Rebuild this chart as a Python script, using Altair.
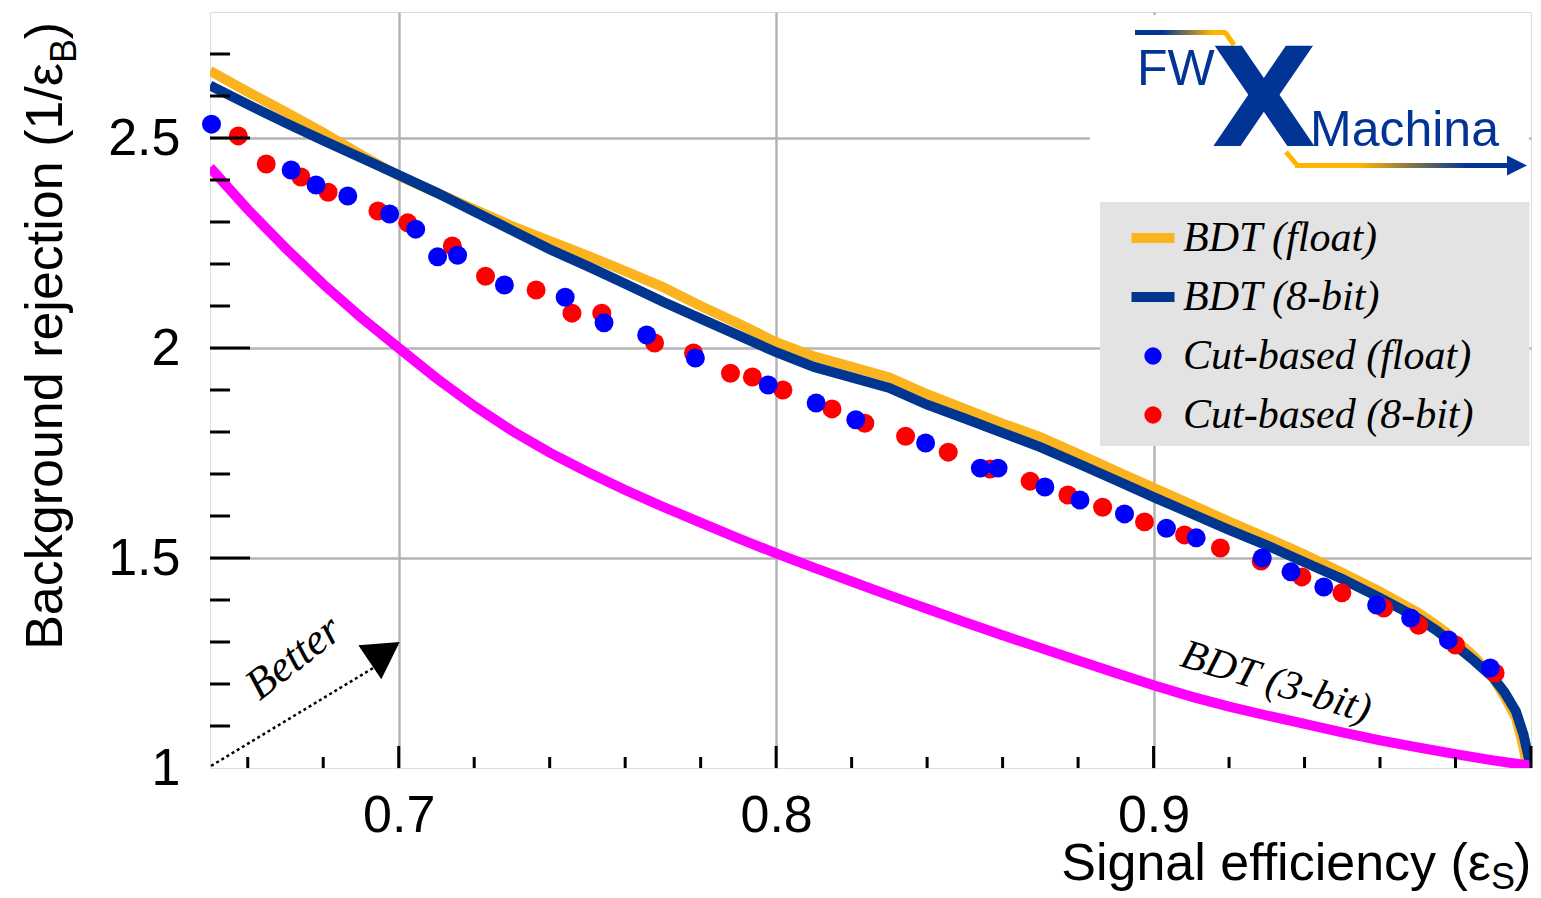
import altair as alt
import pandas as pd

# ---------------- data ----------------
eff = [0.65, 0.66, 0.67, 0.68, 0.69, 0.70, 0.71, 0.72, 0.73, 0.74, 0.75, 0.76, 0.77, 0.78,
       0.79, 0.80, 0.81, 0.82, 0.83, 0.84, 0.85, 0.86, 0.87, 0.88, 0.89, 0.90, 0.91, 0.92,
       0.93, 0.94, 0.95, 0.96, 0.97, 0.975, 0.98, 0.985, 0.99, 0.993, 0.996, 0.998, 0.999, 1.0]
bdt_float = [2.66, 2.61, 2.562, 2.513, 2.46, 2.41, 2.37, 2.33, 2.29, 2.255, 2.22, 2.183, 2.145, 2.10,
             2.058, 2.014, 1.98, 1.955, 1.93, 1.89, 1.855, 1.82, 1.788, 1.748, 1.707, 1.667, 1.627, 1.587,
             1.548, 1.508, 1.465, 1.42, 1.37, 1.34, 1.305, 1.265, 1.215, 1.17, 1.12, 1.05, 1.0, 1.0]
bdt_8bit = [2.625, 2.58, 2.536, 2.494, 2.453, 2.412, 2.37, 2.325, 2.28, 2.235, 2.195, 2.153, 2.11, 2.07,
            2.03, 1.99, 1.955, 1.93, 1.905, 1.865, 1.832, 1.798, 1.764, 1.725, 1.685, 1.645, 1.606, 1.567,
            1.53, 1.49, 1.45, 1.405, 1.357, 1.327, 1.292, 1.255, 1.215, 1.18, 1.135, 1.08, 1.04, 1.0]
eff3 = [0.65, 0.66, 0.67, 0.68, 0.69, 0.70, 0.71, 0.72, 0.73, 0.74, 0.75, 0.76, 0.77, 0.78, 0.79, 0.80,
        0.81, 0.82, 0.83, 0.84, 0.85, 0.86, 0.87, 0.88, 0.89, 0.90, 0.91, 0.92, 0.93, 0.94, 0.95, 0.96,
        0.97, 0.98, 0.99, 1.0]
bdt_3bit = [2.43, 2.33, 2.238, 2.152, 2.073, 2.0, 1.928, 1.862, 1.803, 1.751, 1.705, 1.662, 1.622, 1.584,
            1.547, 1.511, 1.477, 1.444, 1.411, 1.379, 1.347, 1.316, 1.286, 1.256, 1.226, 1.197, 1.17,
            1.146, 1.125, 1.105, 1.085, 1.066, 1.049, 1.033, 1.018, 1.005]

cut_float_eff = [0.6504, 0.6715, 0.6781, 0.6865, 0.6976, 0.7045, 0.7103, 0.7156, 0.7280, 0.7441,
                 0.7544, 0.7657, 0.7786, 0.7979, 0.8106, 0.8211, 0.8396, 0.8541, 0.8588, 0.8712,
                 0.8805, 0.8923, 0.9034, 0.9113, 0.9288, 0.9364, 0.9451, 0.9591, 0.9681, 0.9781, 0.9892]
cut_float_rej = [2.533, 2.424, 2.388, 2.362, 2.319, 2.283, 2.217, 2.221, 2.150, 2.121,
                 2.060, 2.031, 1.976, 1.912, 1.869, 1.829, 1.774, 1.714, 1.714, 1.669,
                 1.638, 1.605, 1.571, 1.548, 1.500, 1.467, 1.431, 1.388, 1.357, 1.305, 1.238]
cut_8bit_eff = [0.6575, 0.6649, 0.6741, 0.6813, 0.6945, 0.7024, 0.7142, 0.7230, 0.7364, 0.7459,
                0.7538, 0.7678, 0.7781, 0.7879, 0.7937, 0.8018, 0.8148, 0.8235, 0.8343, 0.8456,
                0.8567, 0.8673, 0.8773, 0.8865, 0.8976, 0.9082, 0.9177, 0.9285, 0.9393, 0.9499,
                0.9610, 0.9702, 0.9800, 0.9905]
cut_8bit_rej = [2.505, 2.438, 2.407, 2.371, 2.326, 2.298, 2.243, 2.171, 2.138, 2.083,
                2.083, 2.012, 1.988, 1.940, 1.931, 1.900, 1.855, 1.821, 1.790, 1.752,
                1.712, 1.683, 1.650, 1.621, 1.586, 1.555, 1.524, 1.493, 1.455, 1.417,
                1.381, 1.340, 1.293, 1.226]

series_names = ["BDT (float)", "BDT (8-bit)", "Cut-based (float)", "Cut-based (8-bit)"]
series_colors = ["#fbb41f", "#00368f", "#0000ff", "#ff0000"]
color_3bit = "#ff00ff"

x_labels = [0.7, 0.8, 0.9]
y_labels = [1, 1.5, 2, 2.5]
x_major_ticks = [0.7, 0.8, 0.9, 1.0]
x_minor_ticks = [0.66, 0.68, 0.72, 0.74, 0.76, 0.78, 0.82, 0.84, 0.86, 0.88, 0.92, 0.94, 0.96, 0.98]
y_major_ticks = [1.5, 2.0, 2.5]
y_minor_ticks = [1.1, 1.2, 1.3, 1.4, 1.6, 1.7, 1.8, 1.9, 2.1, 2.2, 2.3, 2.4, 2.6, 2.7]

better_arrow_x = [0.6503, 0.6958]
better_arrow_y = [1.005, 1.252]
arrow_head_x = [0.6963]
arrow_head_y = [1.276]
annot_text = ["Better", "BDT (3-bit)"]
annot_x = [0.6722, 0.9325]
annot_y = [1.262, 1.205]

# ---------------- layout ----------------
W, H = 1321, 756
LX = -6  # logo horizontal shift
NAVY = "#023495"
ORANGE = "#ffb400"
SANS = "Liberation Sans"
SERIF = "Liberation Serif"

xs = alt.Scale(domain=[0.65, 1.0], nice=False, zero=False)
ys = alt.Scale(domain=[1.0, 2.8], nice=False, zero=False)
x_axis = alt.Axis(values=x_labels, format="~g", title=None, grid=True, gridColor="#b4b4b4",
                  gridWidth=2.5, ticks=False, tickSize=0, domain=False, labelFont=SANS,
                  labelFontSize=52, labelColor="black", labelPadding=22)
y_axis = alt.Axis(values=y_labels, format="~g", title=None, grid=True, gridColor="#b4b4b4",
                  gridWidth=2.5, ticks=False, tickSize=0, domain=False, labelFont=SANS,
                  labelFontSize=52, labelColor="black", labelPadding=30,
                  gridOpacity={"condition": {"test": "datum.value <= 1", "value": 0}, "value": 1})


def X(f):
    return alt.X(f, type="quantitative", scale=xs, axis=x_axis)


def Y(f):
    return alt.Y(f, type="quantitative", scale=ys, axis=y_axis)


def one():
    return pd.DataFrame({"k": [0]})


def txt(s, x, y, size, font=SANS, style="normal", weight="normal", align="left",
        baseline="alphabetic", angle=0, color="black"):
    return alt.Chart(pd.DataFrame({"label": [s]})).mark_text(
        align=align, baseline=baseline, font=font, fontSize=size, fontStyle=style,
        fontWeight=weight, angle=angle, color=color
    ).encode(x=alt.value(x), y=alt.value(y), text="label:N")


def rect(x1, x2, y1, y2, fill):
    return alt.Chart(one()).mark_rect(fill=fill).encode(
        x=alt.value(x1), x2=alt.value(x2), y=alt.value(y1), y2=alt.value(y2))


def rule(x1, x2, y1, y2, color, width):
    return alt.Chart(one()).mark_rule(color=color, strokeWidth=width).encode(
        x=alt.value(x1), x2=alt.value(x2), y=alt.value(y1), y2=alt.value(y2))


def grad(stops):
    return alt.LinearGradient(gradient="linear",
                              stops=[alt.GradientStop(offset=o, color=c) for o, c in stops],
                              x1=0, x2=1, y1=0, y2=0)


# curves
df_bdt = pd.DataFrame({"x": eff, "float": bdt_float, "b8": bdt_8bit})
df_3 = pd.DataFrame({"x": eff3, "y": bdt_3bit})
line_float = alt.Chart(df_bdt).mark_line(color=series_colors[0], strokeWidth=10, clip=True).encode(
    x=X("x"), y=Y("float"))
line_8bit = alt.Chart(df_bdt).mark_line(color=series_colors[1], strokeWidth=10, clip=True).encode(
    x=X("x"), y=Y("b8"))
line_3bit = alt.Chart(df_3).mark_line(color=color_3bit, strokeWidth=10, clip=True).encode(
    x=X("x"), y=Y("y"))

# cut-based points + legend
df_pts = pd.DataFrame({
    "x": cut_float_eff + cut_8bit_eff,
    "y": cut_float_rej + cut_8bit_rej,
    "series": [series_names[2]] * len(cut_float_eff) + [series_names[3]] * len(cut_8bit_eff),
})
bar_path = "M-2.48,-0.58H2.48V0.58H-2.48Z"
leg = alt.Legend(title=None, orient="none", legendX=922, legendY=205, padding=0,
                 labelFont=SERIF, labelFontStyle="italic", labelFontSize=42, labelColor="black",
                 labelLimit=600, labelOffset=9, symbolOffset=0, rowPadding=17, symbolSize=300,
                 symbolStrokeWidth=0, symbolOpacity=1)
points = alt.Chart(df_pts).mark_point(filled=True, size=360, opacity=1, strokeWidth=0).encode(
    x=X("x"), y=Y("y"),
    color=alt.Color("series:N", scale=alt.Scale(domain=series_names, range=series_colors), legend=leg),
    shape=alt.Shape("series:N", scale=alt.Scale(domain=series_names,
                                                range=[bar_path, bar_path, "circle", "circle"]), legend=leg),
    order=alt.Order("series:N", sort="ascending"),
)

# inward ticks
xt_major = alt.Chart(pd.DataFrame({"v": x_major_ticks})).mark_rule(color="black", strokeWidth=3).encode(
    x=X("v"), y=alt.value(H), y2=alt.value(H - 22))
xt_minor = alt.Chart(pd.DataFrame({"v": x_minor_ticks})).mark_rule(color="black", strokeWidth=3).encode(
    x=X("v"), y=alt.value(H), y2=alt.value(H - 11))
yt_major = alt.Chart(pd.DataFrame({"v": y_major_ticks})).mark_rule(color="black", strokeWidth=3).encode(
    y=Y("v"), x=alt.value(0), x2=alt.value(40))
yt_minor = alt.Chart(pd.DataFrame({"v": y_minor_ticks})).mark_rule(color="black", strokeWidth=3).encode(
    y=Y("v"), x=alt.value(0), x2=alt.value(20))

# "Better" arrow and annotations
arrow_line = alt.Chart(pd.DataFrame({"x": better_arrow_x, "y": better_arrow_y})).mark_line(
    color="black", strokeWidth=2.5, strokeDash=[3, 3]).encode(x=X("x"), y=Y("y"))
arrow_head = alt.Chart(pd.DataFrame({"x": arrow_head_x, "y": arrow_head_y})).mark_point(
    shape="M-1,-1.14L1,0L-1,1.14Z", filled=True, size=1296, angle=326, color="black",
    opacity=1, strokeWidth=0).encode(x=X("x"), y=Y("y"))
better_txt = alt.Chart(pd.DataFrame({"x": annot_x[:1], "y": annot_y[:1], "t": annot_text[:1]})).mark_text(
    font=SERIF, fontStyle="italic", fontSize=44, angle=322, color="black").encode(
    x=X("x"), y=Y("y"), text="t:N")
bit3_txt = alt.Chart(pd.DataFrame({"x": annot_x[1:], "y": annot_y[1:], "t": annot_text[1:]})).mark_text(
    font=SERIF, fontStyle="italic", fontSize=42, angle=17, color="black").encode(
    x=X("x"), y=Y("y"), text="t:N")

# logo area + legend background
logo_bg = rect(880, W - 2, 3, 190, "white")
legend_bg = rect(890, W - 1.5, 190, 434, "#e3e3e3")
logo_top = rect(931 + LX, 1022 + LX, 18, 23, grad([(0, NAVY), (0.3, NAVY), (0.85, ORANGE), (1, ORANGE)]))
logo_top_slant = rule(1021 + LX, 1030 + LX, 20, 33, ORANGE, 5)
logo_bot_slant = rule(1082 + LX, 1093 + LX, 140, 153, ORANGE, 5)
logo_bot = rect(1091 + LX, 1306 + LX, 151, 156, grad([(0, ORANGE), (0.3, ORANGE), (0.8, NAVY), (1, NAVY)]))
logo_head = alt.Chart(one()).mark_point(shape="M-1,-1L1,0L-1,1Z", filled=True, size=400,
                                        color=NAVY, opacity=1, strokeWidth=0).encode(
    x=alt.value(1313 + LX), y=alt.value(153.5))
logo_fw = txt("FW", 933 + LX, 73, 50, color=NAVY)
logo_x = txt("X", 1060 + LX, 134, 138, font="DejaVu Sans", weight="bold", align="center", color=NAVY)
logo_m = txt("Machina", 1106 + LX, 134, 50, color=NAVY)

# axis titles (with subscripts)
xt1 = txt("Signal efficiency (ε", W - 40, 868, 52, align="right")
xt2 = txt("S", W - 40, 877, 36, align="left")
xt3 = txt(")", W - 17, 868, 52, align="left")
yt3 = txt(")", -148, 10, 52, align="right", angle=270)
yt2 = txt("B", -134, 27, 36, align="right", angle=270)
yt1 = txt("Background rejection (1/ε", -148, 51, 52, align="right", angle=270)

chart = alt.layer(
    line_float, line_8bit, line_3bit, points,
    xt_major, xt_minor, yt_major, yt_minor,
    arrow_line, arrow_head, better_txt, bit3_txt,
    logo_bg, legend_bg, logo_top, logo_top_slant, logo_bot_slant, logo_bot, logo_head,
    logo_fw, logo_x, logo_m,
    xt1, xt2, xt3, yt1, yt2, yt3,
).resolve_scale(color="independent", shape="independent").properties(
    width=W, height=H,
    autosize=alt.AutoSizeParams(type="none"),
    padding={"left": 202, "top": 4, "right": 2, "bottom": 128},
).configure_view(stroke="black", strokeWidth=3).configure(background="white")

chart.save("out.html", embed_options={"renderer": "svg", "actions": False})
